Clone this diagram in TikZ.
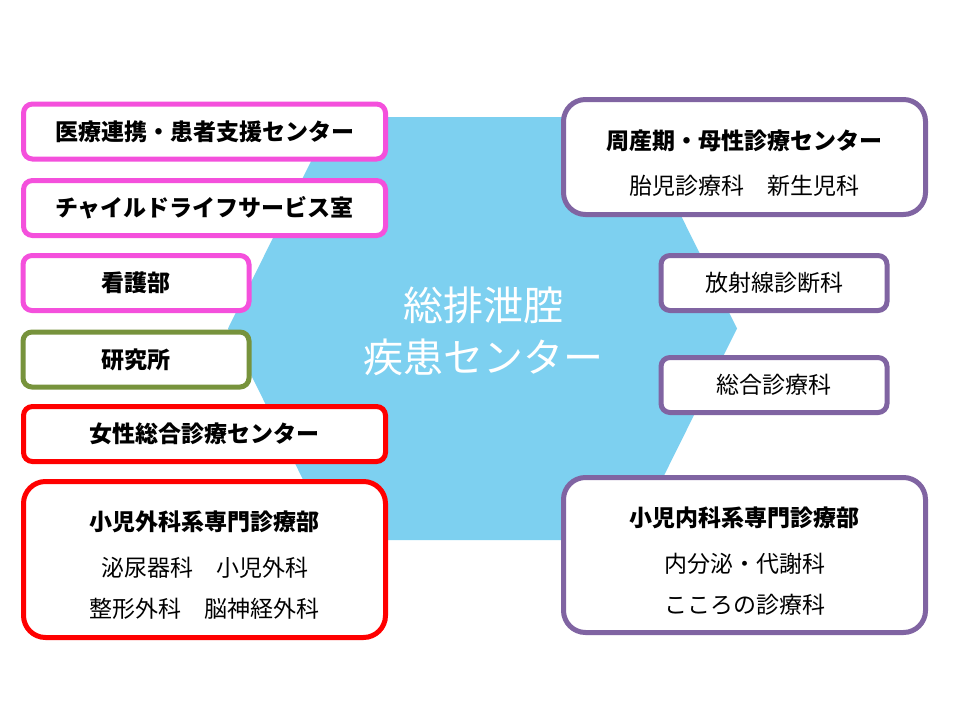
\documentclass[tikz,border=0pt]{standalone}
\usepackage{fontspec}
\setmainfont{Noto Sans CJK JP}
\usetikzlibrary{positioning, backgrounds}
\definecolor{hexblue}{RGB}{125,208,240}
\definecolor{unitpink}{RGB}{244,80,220}
\definecolor{unitgreen}{RGB}{119,147,60}
\definecolor{unitred}{RGB}{255,0,0}
\definecolor{unitpurple}{RGB}{128,100,162}
\newcommand{\lowstrut}{\rule{0pt}{31pt}}

\begin{document}
\begin{tikzpicture}[
  x=1pt, y=-1pt,
  unit/.style={draw, line width=5pt, fill=white, rounded corners=9pt, align=center,
    inner sep=0pt, minimum height=55pt, font=\fontsize{23}{28}\selectfont},
  boldunit/.style={unit, font=\fontsize{23}{28}\selectfont\bfseries},
  wide/.style={minimum width=362pt},
  narrow/.style={minimum width=226pt},
  group/.style={unit, rounded corners=22pt, minimum width=362pt}
]
\useasboundingbox (0,0) rectangle (960,720);

% left column
\node[boldunit, wide, draw=unitpink]   (liaison) at (204.5,131.5) {医療連携・患者支援センター};
\node[boldunit, wide, draw=unitpink]   (child)   at (204.5,208)   {チャイルドライフサービス室};
\node[boldunit, narrow, draw=unitpink] (nurse)   at (136,283)     {看護部};
\node[boldunit, narrow, draw=unitgreen] (lab)    at (136,359.5)   {研究所};
\node[boldunit, wide, draw=unitred]    (women)   at (204.5,434)   {女性総合診療センター};
\node[group, draw=unitred, minimum height=156pt] (surg) at (204.5,559.5)
  {\lowstrut\textbf{小児外科系専門診療部}\\[18pt] 泌尿器科　小児外科\\[13pt] 整形外科　脳神経外科};

% right column
\node[group, draw=unitpurple, minimum height=115pt] (peri) at (744.5,157)
  {\lowstrut\textbf{周産期・母性診療センター}\\[17pt] 胎児診療科　新生児科};
\node[unit, narrow, draw=unitpurple] (radio)   at (774,283) {放射線診断科};
\node[unit, narrow, draw=unitpurple] (general) at (774,385) {総合診療科};
\node[group, draw=unitpurple, minimum height=155pt] (med) at (744.5,555)
  {\lowstrut\textbf{小児内科系専門診療部}\\[18pt] 内分泌・代謝科\\[13pt] こころの診療科};

% centre
\node[text=white, align=center, font=\fontsize{40}{52}\selectfont] (centre) at (483,331)
  {総排泄腔\\疾患センター};

\begin{scope}[on background layer]
  \fill[white] (0,0) rectangle (960,720);
  \fill[hexblue] (228,328.5) -- (333,117) -- (632,117) -- (737,328.5)
    -- (632,540) -- (333,540) -- cycle;
\end{scope}
\end{tikzpicture}
\end{document}
